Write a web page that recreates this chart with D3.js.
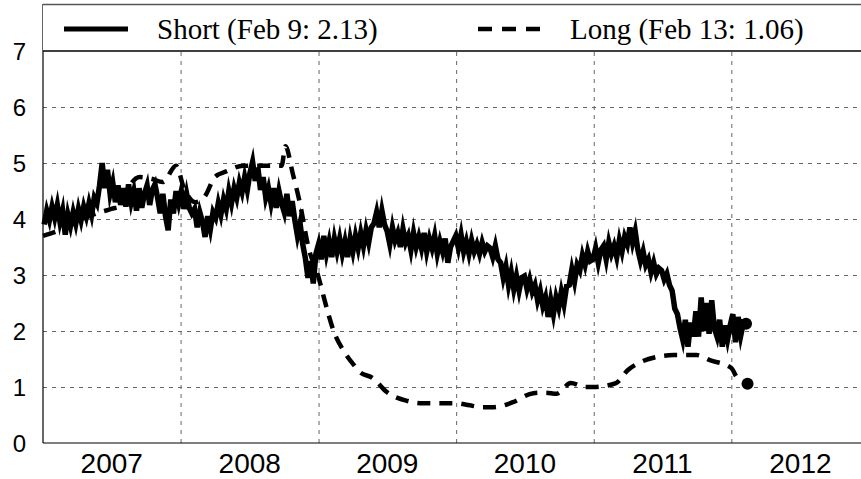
<!DOCTYPE html>
<html>
<head>
<meta charset="utf-8">
<script src="https://cdn.jsdelivr.net/npm/d3@7"></script>
<style>
  body { margin: 0; background: #fff; }
  svg { display: block; }
</style>
</head>
<body>
<div id="chart"></div>
<script>

// weekly short rate, one array per year, first value on 2007-01-04
var short2007 = [3.9, 4.15, 3.98, 4.22,  4.02, 4.25, 3.95, 4.15,  3.72, 4.08, 3.88, 4.12, 3.92,
  4.18, 3.98, 4.22, 4.05,  4.28, 4.08, 4.38, 4.28,  4.6, 5.0, 4.55, 4.88, 4.45,
  4.65, 4.3, 4.6, 4.25,  4.55, 4.22, 4.62, 4.3,  4.5, 4.15, 4.55, 4.2, 4.45,
  4.6, 4.25, 4.52, 4.62,  4.38, 4.1, 4.45, 4.05,  3.8, 4.35, 4.1, 4.5, 4.28];
var short2008 = [4.5, 4.18, 4.45, 4.2,  4.1, 4.18, 3.85, 4.12,  3.95, 3.68, 4.05, 3.82, 4.12,
  4.02, 4.28, 4.08, 4.35,  4.18, 4.5, 4.28, 4.55,  4.38, 4.65, 4.48, 4.75, 4.52,
  4.82, 5.02, 4.68, 4.92,  4.52, 4.75, 4.38, 4.55,  4.28, 4.55, 4.2, 4.5, 4.28,
  4.12, 4.45, 4.05, 4.32,  3.98, 3.7, 3.92, 3.55,  3.3, 2.95, 3.25, 2.85, 3.38];
var short2009 = [3.55, 3.28, 3.7, 3.38,  3.6, 3.32, 3.65, 3.42,  3.65, 3.38, 3.6, 3.32, 3.65,
  3.42, 3.7, 3.48, 3.75,  3.52, 3.8, 3.58, 3.85,  3.92, 4.12, 3.85, 4.15, 3.9,
  3.78, 3.55, 3.85, 3.62,  3.75, 3.5, 3.82, 3.58,  3.7, 3.45, 3.75, 3.5, 3.68,
  3.48, 3.75, 3.42, 3.65,  3.48, 3.7, 3.38, 3.6,  3.42, 3.65, 3.22, 3.5, 3.6];
var short2010 = [3.7, 3.48, 3.72, 3.42,  3.6, 3.38, 3.62, 3.42,  3.55, 3.38, 3.58, 3.42, 3.52,
  3.48, 3.32, 3.52, 3.28,  3.22, 2.95, 3.15, 2.82,  3.05, 2.75, 2.98, 2.72, 2.95,
  2.98, 2.75, 2.92, 2.7,  2.82, 2.55, 2.72, 2.45,  2.6, 2.25, 2.55, 2.3, 2.6,
  2.42, 2.7, 2.48, 2.8,  2.82, 3.1, 2.88, 3.18,  3.08, 3.35, 3.18, 3.42, 3.25];
var short2011 = [3.28, 3.48, 3.22, 3.45,  3.52, 3.28, 3.58, 3.38,  3.52, 3.32, 3.62, 3.42, 3.68,
  3.55, 3.85, 3.58, 3.78,  3.45, 3.25, 3.42, 3.18,  3.28, 3.05, 3.22, 3.02, 3.12,
  3.08, 2.92, 3.02, 2.82,  2.72, 2.4, 2.3, 2.05,  1.85, 2.2, 1.72, 2.15, 1.9,
  2.35, 1.9, 2.6, 2.0,  2.5, 1.95, 2.55, 2.05,  1.9, 2.2, 1.72, 2.1, 1.85];
var short2012 = [2.1, 2.3, 1.8, 2.25, 1.92, 2.15, 2.13];
var shortStart = "2007-01-04";

// long rate
var longDates = ["2007-01-01", "2007-02-15", "2007-04-01", "2007-05-15", "2007-07-01", "2007-08-01",
  "2007-08-20", "2007-09-15", "2007-10-15", "2007-11-15", "2007-12-20", "2008-01-10", "2008-02-10",
  "2008-03-05", "2008-04-01", "2008-05-01", "2008-06-15", "2008-08-01", "2008-09-25", "2008-10-05",
  "2008-10-25", "2008-11-12", "2008-12-05", "2009-01-01", "2009-01-15", "2009-02-10", "2009-03-10",
  "2009-04-05", "2009-04-20", "2009-05-25", "2009-07-01", "2009-08-25", "2009-10-05", "2010-01-01",
  "2010-02-01", "2010-03-10", "2010-04-05", "2010-05-01", "2010-06-01", "2010-07-25", "2010-08-25",
  "2010-09-25", "2010-11-01", "2010-12-10", "2011-01-01", "2011-03-01", "2011-04-01", "2011-05-01",
  "2011-06-20", "2011-08-01", "2011-10-01", "2011-11-05", "2012-01-01", "2012-01-15", "2012-02-13"];
var longValues = [3.70, 3.80, 3.95, 4.08, 4.18, 4.25,
  4.6, 4.75, 4.72, 4.66, 4.95, 4.55, 4.3,
  4.4, 4.75, 4.85, 4.95, 4.95, 4.95, 5.3,
  4.8, 4.3, 3.5, 2.96, 2.6, 2.0, 1.63,
  1.39, 1.27, 1.16, 0.91, 0.75, 0.71, 0.71,
  0.68, 0.64, 0.64, 0.66, 0.73, 0.89, 0.9,
  0.88, 1.07, 1.0, 1.0, 1.07, 1.3, 1.43,
  1.54, 1.57, 1.57, 1.48, 1.34, 1.18, 1.06];

var legendLabels = ["Short (Feb 9: 2.13)", "Long (Feb 13: 1.06)"];
var yearTicks = [2007, 2008, 2009, 2010, 2011, 2012];
var yTicks = [0, 1, 2, 3, 4, 5, 6, 7];

var width = 861, height = 479;
var margin = {top: 51, right: 0, bottom: 36, left: 43};
var plotW = width - margin.left - margin.right,
    plotH = height - margin.top - margin.bottom;

var parse = d3.timeParse("%Y-%m-%d");

var shortValues = short2007.concat(short2008, short2009, short2010, short2011, short2012);
var start = parse(shortStart);
var shortData = shortValues.map(function(v, i) {
  return {date: d3.timeDay.offset(start, 7 * i), value: v};
});
var longData = longDates.map(function(d, i) {
  return {date: parse(d), value: longValues[i]};
});

var svg = d3.select("#chart")
  .append("svg")
    .attr("width", width)
    .attr("height", height);

var g = svg.append("g")
    .attr("transform", "translate(" + margin.left + "," + margin.top + ")");

var x = d3.scaleTime()
  .domain([new Date(2007, 0, 1), new Date(2012, 11, 10)])
  .range([0, plotW]);
var y = d3.scaleLinear()
  .domain([0, 7])
  .range([plotH, 0]);

// grid
g.append("g")
  .attr("class", "grid")
  .attr("transform", "translate(0," + plotH + ")")
  .call(d3.axisBottom(x)
    .tickValues(yearTicks.slice(1).map(function(yr) { return new Date(yr, 0, 1); }))
    .tickSize(-plotH)
    .tickFormat(""));
g.append("g")
  .attr("class", "grid")
  .call(d3.axisLeft(y)
    .tickValues(yTicks.slice(1, -1))
    .tickSize(-plotW)
    .tickFormat(""));
g.selectAll(".grid .domain").remove();
g.selectAll(".grid line")
  .attr("stroke", "#666")
  .attr("stroke-width", 1)
  .attr("stroke-dasharray", "4,5");

// axes
var xAxis = g.append("g")
  .attr("transform", "translate(0," + plotH + ")")
  .call(d3.axisBottom(x)
    .tickValues(yearTicks.map(function(yr) { return new Date(yr, 6, 1); }))
    .tickSize(0)
    .tickFormat(d3.timeFormat("%Y")));
xAxis.select(".domain").remove();
xAxis.selectAll("text")
  .attr("y", 30)
  .attr("dy", 0)
  .style("font-family", "Liberation Sans, Arial, sans-serif")
  .style("font-size", "28px")
  .attr("fill", "#000");

var yAxis = g.append("g")
  .call(d3.axisLeft(y)
    .tickValues(yTicks)
    .tickSize(0)
    .tickPadding(17)
    .tickFormat(d3.format("d")));
yAxis.select(".domain").remove();
yAxis.selectAll("text")
  .attr("dy", "0.36em")
  .style("font-family", "Liberation Sans, Arial, sans-serif")
  .style("font-size", "24px")
  .attr("fill", "#000");

g.append("line")
  .attr("x1", 0).attr("x2", plotW)
  .attr("y1", plotH).attr("y2", plotH)
  .attr("stroke", "#000").attr("stroke-width", 1.2);
g.append("line")
  .attr("x1", 0).attr("x2", 0)
  .attr("y1", -47).attr("y2", plotH)
  .attr("stroke", "#000").attr("stroke-width", 1.2);

// lines
var line = d3.line()
  .x(function(d) { return x(d.date); })
  .y(function(d) { return y(d.value); });

g.append("path")
  .datum(shortData)
  .attr("fill", "none")
  .attr("stroke", "#000")
  .attr("stroke-width", 5.5)
  .attr("stroke-linejoin", "miter")
  .attr("stroke-miterlimit", 6)
  .attr("d", line);

g.append("path")
  .datum(longData)
  .attr("fill", "none")
  .attr("stroke", "#000")
  .attr("stroke-width", 4.5)
  .attr("stroke-dasharray", "13,9")
  .attr("d", d3.line()
    .x(function(d) { return x(d.date); })
    .y(function(d) { return y(d.value); })
    .curve(d3.curveMonotoneX));

// end points
var ends = [shortData[shortData.length - 1], longData[longData.length - 1]];
g.selectAll(".end")
  .data(ends)
  .enter()
  .append("circle")
    .attr("class", "end")
    .attr("cx", function(d) { return x(d.date); })
    .attr("cy", function(d) { return y(d.value); })
    .attr("r", 6)
    .attr("fill", "#000");

// legend box
var legend = svg.append("g");
legend.append("rect")
  .attr("x", margin.left)
  .attr("y", 4)
  .attr("width", width - margin.left + 2)
  .attr("height", margin.top - 4)
  .attr("fill", "#fff")
  .attr("stroke", "none");
legend.append("line")
  .attr("x1", margin.left).attr("x2", width)
  .attr("y1", 4.5).attr("y2", 4.5)
  .attr("stroke", "#555").attr("stroke-width", 1.5);
legend.append("line")
  .attr("x1", margin.left).attr("x2", width)
  .attr("y1", margin.top).attr("y2", margin.top)
  .attr("stroke", "#000").attr("stroke-width", 1.5);

var legX = [64, 478], legTextX = [157, 570];
legend.selectAll(".key")
  .data(legendLabels)
  .enter()
  .append("line")
    .attr("x1", function(d, i) { return legX[i]; })
    .attr("x2", function(d, i) { return legX[i] + 64; })
    .attr("y1", 29).attr("y2", 29)
    .attr("stroke", "#000")
    .attr("stroke-width", function(d, i) { return i === 0 ? 5 : 4.5; })
    .attr("stroke-dasharray", function(d, i) { return i === 0 ? null : "14,10"; });
legend.selectAll(".lab")
  .data(legendLabels)
  .enter()
  .append("text")
    .attr("x", function(d, i) { return legTextX[i]; })
    .attr("y", 39)
    .style("font-family", "Liberation Serif, Times New Roman, serif")
    .style("font-size", "29px")
    .attr("fill", "#000")
    .text(function(d) { return d; });

</script>
</body>
</html>
